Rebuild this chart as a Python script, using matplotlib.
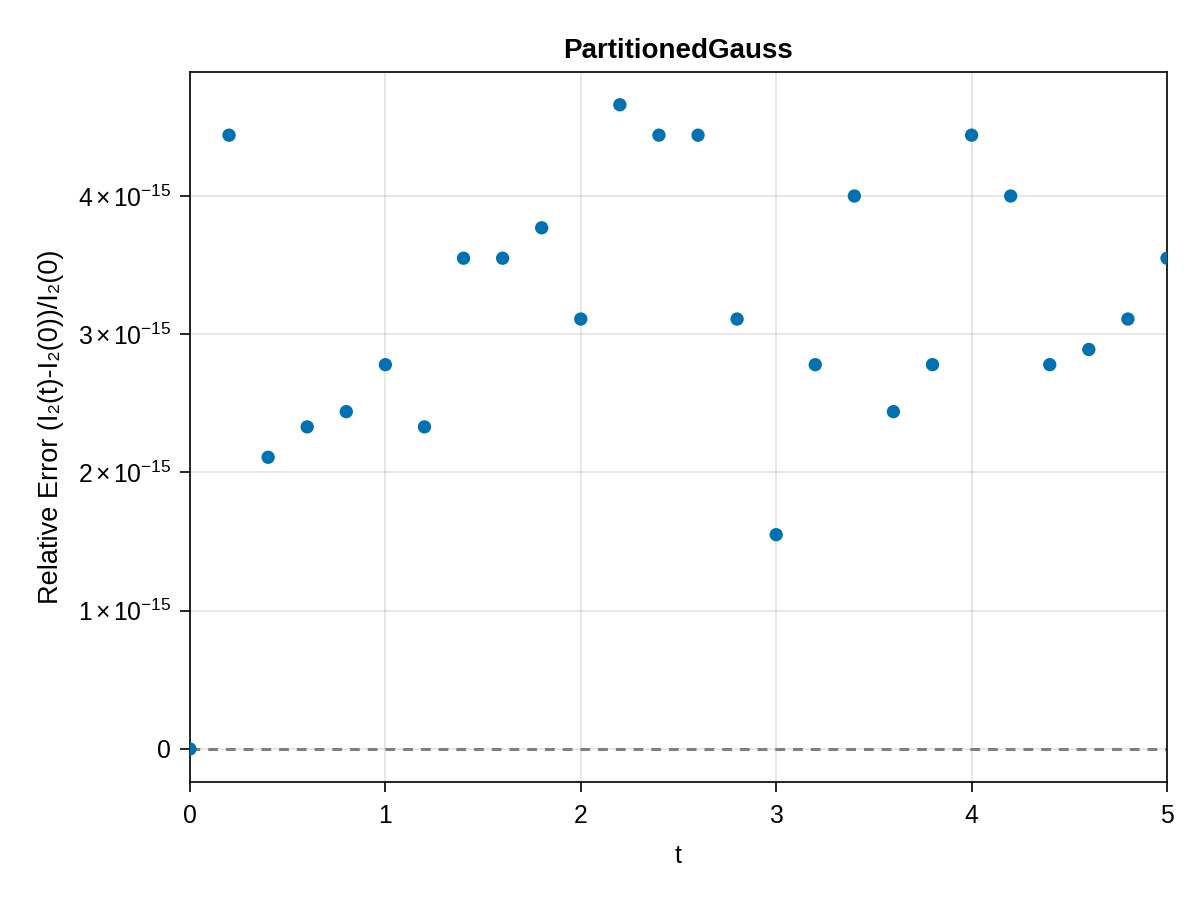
import matplotlib
matplotlib.use("Agg")
import matplotlib.pyplot as plt
from matplotlib.ticker import FuncFormatter

plt.rcParams['font.family'] = ['Liberation Sans', 'DejaVu Sans']
plt.rcParams['mathtext.fontset'] = 'custom'
plt.rcParams['mathtext.rm'] = 'Liberation Sans'
plt.rcParams['mathtext.it'] = 'Liberation Sans'
plt.rcParams['mathtext.bf'] = 'Liberation Sans:bold'

# time samples and relative error of I2
t = [0.0, 0.2, 0.4, 0.6, 0.8, 1.0, 1.2, 1.4, 1.6, 1.8, 2.0, 2.2, 2.4,
     2.6, 2.8, 3.0, 3.2, 3.4, 3.6, 3.8, 4.0, 4.2, 4.4, 4.6, 4.8, 5.0]
rel_err = [0.0, 4.44e-15, 2.11e-15, 2.33e-15, 2.44e-15, 2.78e-15, 2.33e-15,
           3.55e-15, 3.55e-15, 3.77e-15, 3.11e-15, 4.66e-15, 4.44e-15,
           4.44e-15, 3.11e-15, 1.55e-15, 2.78e-15, 4.00e-15, 2.44e-15,
           2.78e-15, 4.44e-15, 4.00e-15, 2.78e-15, 2.89e-15, 3.11e-15,
           3.55e-15]
x_ticks = [0, 1, 2, 3, 4, 5]
y_ticks = [0, 1e-15, 2e-15, 3e-15, 4e-15]


def sci_fmt(v, pos):
    if v == 0:
        return "0"
    m = v / 1e-15
    return r"$%d\,{\times}\,10^{-15}$" % round(m)


fig = plt.figure(figsize=(12, 9), dpi=100)
ax = fig.add_axes([0.1583, 0.1311, 0.8142, 0.7889])

ax.axhline(0, color="#808080", lw=2.2, dashes=(3.2, 2.6), zorder=2)
ax.scatter(t, rel_err, s=92, color="#0072B2", edgecolors="none", zorder=3)

ax.set_xlim(0, 5)
ax.set_ylim(-0.239e-15, 4.897e-15)
ax.set_xticks(x_ticks)
ax.set_yticks(y_ticks)
ax.yaxis.set_major_formatter(FuncFormatter(sci_fmt))
ax.grid(True, color="black", alpha=0.12, lw=1.1)
ax.set_axisbelow(True)

for s in ax.spines.values():
    s.set_linewidth(1.2)
ax.tick_params(direction="out", length=7.5, width=1.2, labelsize=17.8)
ax.tick_params(axis="x", pad=8.5)
ax.tick_params(axis="y", pad=6)

ax.set_title("PartitionedGauss", fontsize=20, fontweight="bold", pad=10)
ax.set_xlabel("t", fontsize=18, labelpad=11)
ax.set_ylabel("Relative Error (I\u2082(t)-I\u2082(0))/I\u2082(0)", fontsize=19.5, labelpad=10)

fig.savefig("out.png", dpi=100)
